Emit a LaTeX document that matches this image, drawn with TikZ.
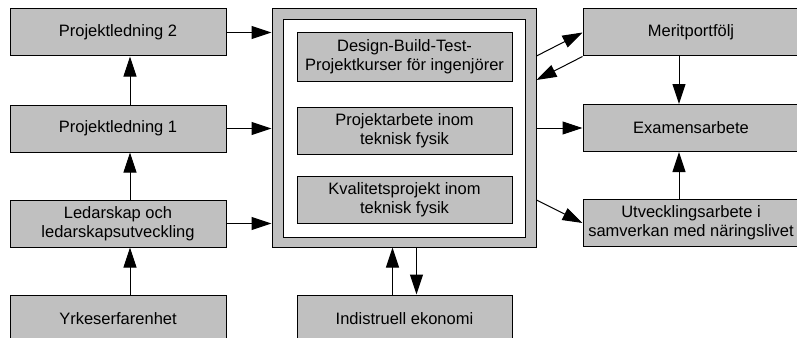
\documentclass[tikz,border=0pt]{standalone}
\usepackage{fontspec}
\setmainfont{Liberation Sans}
\usetikzlibrary{positioning, arrows.meta}
\definecolor{boxgray}{RGB}{192,192,192}

\begin{document}
\begin{tikzpicture}[x=1pt, y=-1pt, line width=1pt,
    box/.style={draw, fill=boxgray, minimum width=216pt, minimum height=47pt,
      align=center, inner sep=0pt, font=\fontsize{16.5}{19}\selectfont},
    arr/.style={-{Triangle[length=20pt,width=13pt]}}]
  \useasboundingbox (0,0) rectangle (797,337);
  \clip (0,0) rectangle (797,337);

  % left column
  \node[box] (pl2) at (118, 32.5) {Projektledning 2};
  \node[box] (pl1) at (118, 128.5) {Projektledning 1};
  \node[box] (led) at (118, 223.5) {Ledarskap och\\ledarskapsutveckling};
  \node[box] (yrke) at (118, 318.5) {Yrkeserfarenhet};

  % middle
  \node[draw, fill=boxgray, minimum width=264pt, minimum height=238pt] (big) at (404, 128) {};
  \node[draw, fill=white, minimum width=242pt, minimum height=217pt] (inner) at (404, 128.5) {};
  \node[box, minimum width=215pt, minimum height=48pt] (dbt) at (404.5, 57) {Design-Build-Test-\\Projektkurser för ingenjörer};
  \node[box, minimum width=215pt] (proj) at (404.5, 130.5) {Projektarbete inom\\teknisk fysik};
  \node[box, minimum width=215pt] (kval) at (404.5, 199.5) {Kvalitetsprojekt inom\\teknisk fysik};
  \node[box, minimum width=215pt] (ind) at (404.5, 318.5) {Indistruell ekonomi};

  % right column
  \node[box] (merit) at (691, 32.5) {Meritportfölj};
  \node[box] (exam) at (691, 128) {Examensarbete};
  \node[box] (utv) at (691, 223) {Utvecklingsarbete i\\samverkan med näringslivet};

  \draw[arr] ([xshift=12pt]yrke.north) -- ([xshift=12pt]led.south);
  \draw[arr] ([xshift=12pt]led.north) -- ([xshift=12pt]pl1.south);
  \draw[arr] ([xshift=12pt]pl1.north) -- ([xshift=12pt]pl2.south);

  \draw[arr] (pl2.east) -- (pl2.east -| big.west);
  \draw[arr] (pl1.east) -- (pl1.east -| big.west);
  \draw[arr] (led.east) -- (led.east -| big.west);

  \draw[arr] ([xshift=-12pt]ind.north) -- ([xshift=-12pt]ind.north |- big.south);
  \draw[arr] ([xshift=12pt]ind.north |- big.south) -- ([xshift=12pt]ind.north);

  \draw[arr] ([yshift=72pt]big.east) -- (merit.west);
  \draw[arr] (merit.south west) -- ([yshift=48pt]big.east);
  \draw[arr] (big.east |- exam.west) -- (exam.west);
  \draw[arr] ([yshift=-72pt]big.east) -- (utv.west);

  \draw[arr] ([xshift=-12pt]merit.south) -- ([xshift=-12pt]exam.north);
  \draw[arr] ([xshift=-12pt]utv.north) -- ([xshift=-12pt]exam.south);
\end{tikzpicture}
\end{document}
